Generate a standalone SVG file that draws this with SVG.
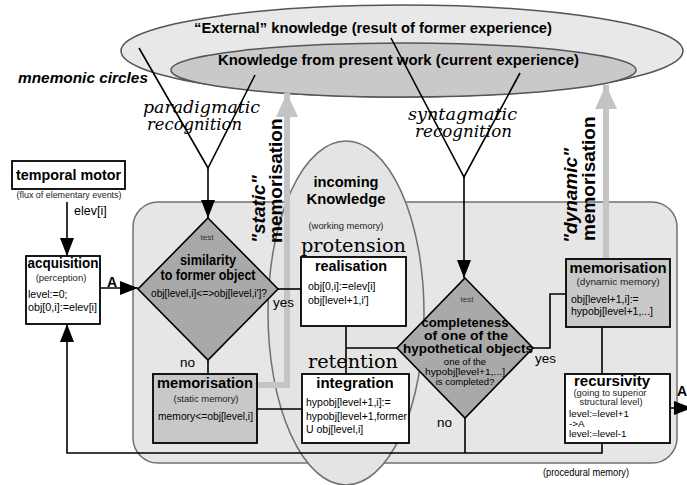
<svg xmlns="http://www.w3.org/2000/svg" width="687" height="485" viewBox="0 0 687 485">
  <style>
    text { font-family: "Liberation Sans", Arial, sans-serif; fill: #000; }
    .h { font-weight: bold; font-size: 15px; text-anchor: middle; }
    .hd { font-weight: bold; font-size: 14px; text-anchor: middle; }
    .hd2 { font-weight: bold; font-size: 13px; text-anchor: middle; }
    .sub { font-size: 9.5px; text-anchor: middle; fill: #222; }
    .code { font-size: 10.5px; }
    .lbl { font-size: 13.5px; }
    .tiny { font-size: 8px; text-anchor: middle; fill: #333; }
    .ser { font-family: "DejaVu Serif", "Liberation Serif", serif; }
    .rot { font-weight: bold; font-size: 19px; }
    .box { fill: #fff; stroke: #000; stroke-width: 1.8; }
    .gbox { fill: #c8c8c8; stroke: #000; stroke-width: 1.8; }
    .dia { fill: #a9a9a9; stroke: #000; stroke-width: 1.6; }
    .ln { fill: none; stroke: #000; stroke-width: 1.6; }
    .garrow { fill: none; stroke: #c4c4c4; stroke-width: 6; }
  </style>
  <defs>
    <marker id="arr" viewBox="0 0 18 14" refX="18" refY="7" markerWidth="18" markerHeight="14" markerUnits="userSpaceOnUse" orient="auto">
      <path d="M0,0 L18,7 L0,14 z" fill="#000"/>
    </marker>
    <marker id="garr" viewBox="0 0 24 22" refX="24" refY="11" markerWidth="24" markerHeight="22" markerUnits="userSpaceOnUse" orient="auto">
      <path d="M0,0 L24,11 L0,22 z" fill="#c4c4c4"/>
    </marker>
  </defs>

  <!-- mnemonic circles -->
  <g id="external-knowledge">
    <ellipse cx="402" cy="51" rx="281" ry="46" fill="#e8e8e8" stroke="#555" stroke-width="1.5"/>
    <text x="194" y="33" font-weight="bold" font-size="15" textLength="358" lengthAdjust="spacingAndGlyphs">“External” knowledge (result of former experience)</text>
  </g>
  <g id="present-knowledge">
    <ellipse cx="403.5" cy="70" rx="232.5" ry="27" fill="#c9c9c9" stroke="#555" stroke-width="1.5"/>
    <text x="218" y="65" font-weight="bold" font-size="15" textLength="361" lengthAdjust="spacingAndGlyphs">Knowledge from present work (current experience)</text>
  </g>
  <text x="18" y="83" font-weight="bold" font-style="italic" font-size="15" textLength="130" lengthAdjust="spacingAndGlyphs">mnemonic circles</text>

  <!-- recognition labels -->
  <g id="paradigmatic-label" font-style="italic" font-size="16">
    <text class="ser" x="143" y="113" textLength="117" lengthAdjust="spacingAndGlyphs">paradigmatic</text>
    <text class="ser" x="147" y="130" textLength="95" lengthAdjust="spacingAndGlyphs">recognition</text>
  </g>
  <g id="syntagmatic-label" font-style="italic" font-size="16">
    <text class="ser" x="408" y="120" textLength="109" lengthAdjust="spacingAndGlyphs">syntagmatic</text>
    <text class="ser" x="415" y="137" textLength="97" lengthAdjust="spacingAndGlyphs">recognition</text>
  </g>

  <!-- procedural memory panel -->
  <g id="procedural-memory">
    <rect x="133" y="202" width="544" height="261" rx="25" fill="#e6e6e6" stroke="#707070" stroke-width="1.5"/>
    <text x="543" y="476" font-size="10" textLength="86" lengthAdjust="spacingAndGlyphs" fill="#222">(procedural memory)</text>
  </g>

  <!-- working memory -->
  <g id="incoming-knowledge">
    <ellipse cx="346" cy="313" rx="78" ry="172" fill="#e4e4e4" stroke="#707070" stroke-width="1.5"/>
    <text class="h" x="346" y="187" textLength="65" lengthAdjust="spacingAndGlyphs">incoming</text>
    <text class="h" x="346" y="204" textLength="79" lengthAdjust="spacingAndGlyphs">Knowledge</text>
    <text class="sub" x="346" y="229" textLength="75" lengthAdjust="spacingAndGlyphs">(working memory)</text>
    <text class="ser" x="301" y="252" font-size="19" textLength="105" lengthAdjust="spacingAndGlyphs">protension</text>
    <text class="ser" x="308" y="368" font-size="19" textLength="90" lengthAdjust="spacingAndGlyphs">retention</text>
  </g>

  <!-- memorisation flows -->
  <g id="memorisation-arrows">
    <path class="garrow" d="M257,385 H287 V93" marker-end="url(#garr)"/>
    <path class="garrow" d="M606,259 V85" marker-end="url(#garr)"/>
    <text class="rot" font-style="italic" transform="translate(265,243) rotate(-90)">"static"</text>
    <text class="rot" transform="translate(282,243) rotate(-90)">memorisation</text>
    <text class="rot" font-style="italic" transform="translate(577,243) rotate(-90)">"dynamic"</text>
    <text class="rot" transform="translate(595,241) rotate(-90)">memorisation</text>
  </g>

  <!-- connectors -->
  <g id="connectors">
    <path class="ln" d="M139,48 L208,168 L255,75"/>
    <path class="ln" d="M208,168 V218" marker-end="url(#arr)"/>
    <path class="ln" d="M391,38 L464,177 L520,73"/>
    <path class="ln" d="M464,177 V278" marker-end="url(#arr)"/>
    <path class="ln" d="M67,202 V256" marker-end="url(#arr)"/>
    <path class="ln" d="M100,288 H138" marker-end="url(#arr)"/>
    <path class="ln" d="M278,289 H301"/>
    <path class="ln" d="M208,360 V374"/>
    <path class="ln" d="M257,409 H302"/>
    <path class="ln" d="M346,326 V374"/>
    <path class="ln" d="M346,348 H397"/>
    <path class="ln" d="M533,348 H550 V294 H566"/>
    <path class="ln" d="M602,327 V374"/>
    <path class="ln" d="M670,408 H692" marker-end="url(#arr)"/>
    <path class="ln" d="M465,418 V453"/>
    <path class="ln" d="M602,443 V453 H67 V324" marker-end="url(#arr)"/>
    <text x="107" y="287" font-weight="bold" font-size="14">A</text>
    <text x="677" y="396" font-weight="bold" font-size="14">A</text>
    <text class="lbl" x="273" y="307">yes</text>
    <text class="lbl" x="180" y="367">no</text>
    <text class="lbl" x="535" y="363">yes</text>
    <text class="lbl" x="437" y="427">no</text>
  </g>

  <g id="temporal-motor">
    <rect class="box" x="12" y="161" width="113" height="28"/>
    <text class="h" x="68.5" y="180" textLength="105" lengthAdjust="spacingAndGlyphs">temporal motor</text>
    <text class="sub" x="69" y="198" textLength="105" lengthAdjust="spacingAndGlyphs">(flux of elementary events)</text>
    <text x="74" y="215" font-size="12.5">elev[i]</text>
  </g>

  <g id="acquisition">
    <rect class="box" x="26" y="256" width="74" height="68"/>
    <text class="h" x="63" y="268" textLength="71" lengthAdjust="spacingAndGlyphs">acquisition</text>
    <text class="sub" x="61" y="281">(perception)</text>
    <text class="code" x="28" y="298">level:=0;</text>
    <text class="code" x="28" y="311" textLength="69" lengthAdjust="spacingAndGlyphs">obj[0,i]:=elev[i]</text>
  </g>

  <g id="similarity-test">
    <polygon class="dia" points="208,218 278,289 208,360 138,289"/>
    <text class="tiny" x="207" y="240">test</text>
    <text class="hd" x="208" y="265" textLength="56" lengthAdjust="spacingAndGlyphs">similarity</text>
    <text class="hd" x="208" y="280" textLength="95" lengthAdjust="spacingAndGlyphs">to former object</text>
    <text class="code" x="209" y="297" text-anchor="middle" textLength="116" lengthAdjust="spacingAndGlyphs" fill="#222">obj[level,i]&lt;=&gt;obj[level,i']?</text>
  </g>

  <g id="static-memorisation">
    <rect class="gbox" x="153" y="374" width="104" height="69"/>
    <text class="h" x="205" y="388" textLength="96" lengthAdjust="spacingAndGlyphs">memorisation</text>
    <text class="sub" x="206" y="402" textLength="65" lengthAdjust="spacingAndGlyphs">(static memory)</text>
    <text class="code" x="158" y="420" textLength="95" lengthAdjust="spacingAndGlyphs">memory&lt;=obj[level,i]</text>
  </g>

  <g id="realisation">
    <rect class="box" x="301" y="257" width="105" height="69"/>
    <text class="h" x="351" y="271" textLength="72" lengthAdjust="spacingAndGlyphs">realisation</text>
    <text class="code" x="308" y="290">obj[0,i]:=elev[i]</text>
    <text class="code" x="308" y="304">obj[level+1,i']</text>
  </g>

  <g id="integration">
    <rect class="box" x="302" y="374" width="107" height="69"/>
    <text class="h" x="355" y="388">integration</text>
    <text class="code" x="306" y="406">hypobj[level+1,i]:=</text>
    <text class="code" x="306" y="420" textLength="101" lengthAdjust="spacingAndGlyphs">hypobj[level+1,former</text>
    <text class="code" x="306" y="433">U obj[level,i]</text>
  </g>

  <g id="completeness-test">
    <polygon class="dia" points="465,278 533,348 465,418 397,348"/>
    <text class="tiny" x="467" y="302">test</text>
    <text class="hd2" x="465" y="327" textLength="87" lengthAdjust="spacingAndGlyphs">completeness</text>
    <text class="hd2" x="466" y="340" textLength="84" lengthAdjust="spacingAndGlyphs">of one of the</text>
    <text class="hd2" x="468" y="353" textLength="130" lengthAdjust="spacingAndGlyphs">hypothetical objects</text>
    <text x="465" y="365" font-size="9.5" text-anchor="middle" fill="#333">one of the</text>
    <text x="465" y="375" font-size="9.5" text-anchor="middle" fill="#333" textLength="80" lengthAdjust="spacingAndGlyphs">hypobj[level+1,...]</text>
    <text x="465" y="385" font-size="9.5" text-anchor="middle" fill="#333">is completed?</text>
  </g>

  <g id="dynamic-memorisation">
    <rect class="gbox" x="566" y="259" width="104" height="68"/>
    <text class="h" x="618" y="273" textLength="97" lengthAdjust="spacingAndGlyphs">memorisation</text>
    <text class="sub" x="618" y="285" textLength="83" lengthAdjust="spacingAndGlyphs">(dynamic memory)</text>
    <text class="code" x="571" y="303">obj[level+1,i]:=</text>
    <text class="code" x="571" y="315">hypobj[level+1,...]</text>
  </g>

  <g id="recursivity">
    <rect class="box" x="565" y="374" width="105" height="69"/>
    <text class="h" x="612" y="386" font-size="14.5" textLength="76" lengthAdjust="spacingAndGlyphs">recursivity</text>
    <text class="sub" x="610" y="396" font-size="8.5" textLength="73" lengthAdjust="spacingAndGlyphs">(going to superior</text>
    <text class="sub" x="611" y="405" font-size="8.5" textLength="63" lengthAdjust="spacingAndGlyphs">structural level)</text>
    <text x="569" y="417" font-size="9.8">level:=level+1</text>
    <text x="569" y="427" font-size="9.8">-&gt;A</text>
    <text x="569" y="437" font-size="9.8">level:=level-1</text>
  </g>
</svg>
